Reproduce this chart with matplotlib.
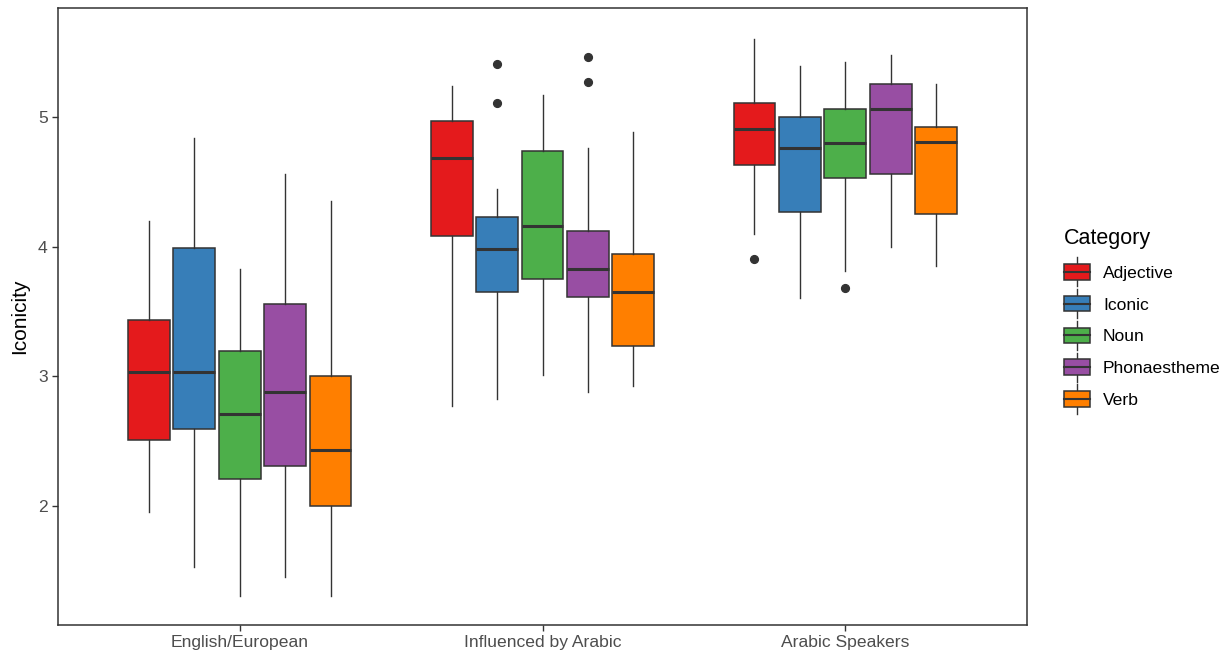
import numpy as np
import matplotlib
matplotlib.use("Agg")
from matplotlib import pyplot as plt
from matplotlib.patches import Patch, Rectangle
from matplotlib.lines import Line2D
from matplotlib.legend_handler import HandlerBase

plt.rcParams['font.family'] = ['Liberation Sans', 'DejaVu Sans']

groups = ["English/European", "Influenced by Arabic", "Arabic Speakers"]
categories = ["Adjective", "Iconic", "Noun", "Phonaestheme", "Verb"]
colors = ["#E41A1C", "#377EB8", "#4DAF4A", "#984EA3", "#FF7F00"]

# per group, per category
whislo = [[1.95, 1.53, 1.30, 1.45, 1.30],
          [2.77, 2.82, 3.01, 2.88, 2.92],
          [4.10, 3.60, 3.81, 4.00, 3.85]]
q1 = [[2.51, 2.59, 2.21, 2.31, 2.00],
      [4.08, 3.65, 3.75, 3.61, 3.23],
      [4.63, 4.27, 4.53, 4.56, 4.25]]
med = [[3.03, 3.03, 2.71, 2.88, 2.43],
       [4.68, 3.98, 4.16, 3.83, 3.65],
       [4.91, 4.76, 4.80, 5.06, 4.81]]
q3 = [[3.43, 3.99, 3.19, 3.56, 3.00],
      [4.97, 4.23, 4.74, 4.12, 3.94],
      [5.11, 5.00, 5.06, 5.25, 4.92]]
whishi = [[4.20, 4.84, 3.83, 4.56, 4.35],
          [5.24, 4.44, 5.17, 4.76, 4.88],
          [5.60, 5.39, 5.42, 5.48, 5.25]]
fliers = [[[], [], [], [], []],
          [[], [5.11, 5.41], [], [5.27, 5.46], []],
          [[3.90], [], [3.68], [], []]]

edge = "#333333"

fig = plt.figure(figsize=(12.29, 6.57), dpi=100)
ax = fig.add_axes([58/1229, 32/657, 969/1229, 617/657])

for g in range(len(groups)):
    for c in range(len(categories)):
        st = dict(whislo=whislo[g][c], q1=q1[g][c], med=med[g][c],
                  q3=q3[g][c], whishi=whishi[g][c], fliers=fliers[g][c])
        pos = g + 1 + (c - 2) * 0.15
        ax.bxp([st], positions=[pos], widths=0.138, patch_artist=True,
               showcaps=False,
               boxprops=dict(facecolor=colors[c], edgecolor=edge, linewidth=1.1),
               medianprops=dict(color=edge, linewidth=2.2, solid_capstyle='butt'),
               whiskerprops=dict(color=edge, linewidth=1.0),
               flierprops=dict(marker='o', markersize=5.6, markerfacecolor=edge,
                               markeredgecolor=edge))

ax.set_xlim(0.4, 3.6)
ax.set_ylim(1.08, 5.84)
ax.set_xticks([1, 2, 3])
ax.set_xticklabels(groups)
ax.set_yticks([2, 3, 4, 5])
ax.set_ylabel("Iconicity", fontsize=15, color="black", labelpad=6)
ax.tick_params(colors=edge, labelcolor="#4D4D4D", labelsize=12.6, length=4, width=1)
for s in ax.spines.values():
    s.set_color(edge)
    s.set_linewidth(1.1)


class BoxHandler(HandlerBase):
    def create_artists(self, legend, orig_handle, xdescent, ydescent,
                       width, height, fontsize, trans):
        fc = orig_handle.get_facecolor()
        x0, y0 = -xdescent, -ydescent
        cx = x0 + width / 2
        w1 = Line2D([cx, cx], [y0 - 5, y0], color=edge, lw=1.0, transform=trans)
        w2 = Line2D([cx, cx], [y0 + height, y0 + height + 5], color=edge, lw=1.0, transform=trans)
        r = Rectangle((x0, y0), width, height, facecolor=fc, edgecolor=edge,
                      lw=1.1, transform=trans)
        m = Line2D([x0, x0 + width], [y0 + height / 2] * 2, color=edge, lw=1.5, transform=trans)
        return [w1, w2, r, m]


handles = [Patch(facecolor=col) for col in colors]
leg = fig.legend(handles, categories, handler_map={Patch: BoxHandler()},
                 title="Category", loc="center left",
                 bbox_to_anchor=(1048/1229, 1 - 318/657), frameon=False,
                 fontsize=12.6, title_fontsize=15.5, handlelength=1.5,
                 handleheight=1.0, labelspacing=0.86, handletextpad=0.75,
                 alignment="left")

fig.savefig("out.png", dpi=100)
